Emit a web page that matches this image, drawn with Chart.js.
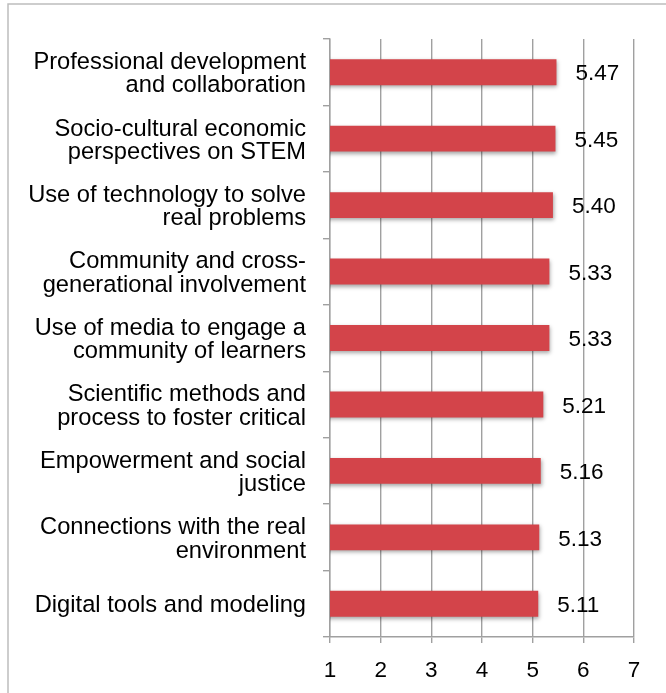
<!DOCTYPE html>
<html>
<head>
<meta charset="utf-8">
<script src="https://cdn.jsdelivr.net/npm/chart.js@4/dist/chart.umd.min.js"></script>
<style>
  html, body { margin: 0; padding: 0; background: #ffffff; }
  #wrap { position: relative; width: 666px; height: 693px; }
</style>
</head>
<body>
<div id="wrap"><canvas id="chart" width="666" height="693"></canvas></div>
<script>
// Mean ratings per STEM practice area
const categories = [
  ["Professional development", "and collaboration"],
  ["Socio-cultural economic", "perspectives on STEM"],
  ["Use of technology to solve", "real problems"],
  ["Community and cross-", "generational involvement"],
  ["Use of media to engage a", "community of learners"],
  ["Scientific methods and", "process to foster critical"],
  ["Empowerment and social", "justice"],
  ["Connections with the real", "environment"],
  "Digital tools and modeling"
];
const ratings = [5.47, 5.45, 5.40, 5.33, 5.33, 5.21, 5.16, 5.13, 5.11];
const xTicks = [1, 2, 3, 4, 5, 6, 7];

const FONT = "'Liberation Sans', Arial, sans-serif";
const GRID = '#a0a0a0';

// Thin frame around the figure
const framePlugin = {
  id: 'frame',
  beforeDraw(chart) {
    const ctx = chart.ctx;
    ctx.save();
    ctx.strokeStyle = '#bdbdbd';
    ctx.lineWidth = 1.5;
    ctx.beginPath();
    ctx.moveTo(8, 700);
    ctx.lineTo(8, 4);
    ctx.lineTo(700, 4);
    ctx.stroke();
    ctx.restore();
  }
};

// Soft drop shadow under the bars
const shadowPlugin = {
  id: 'barShadow',
  beforeDatasetDraw(chart) {
    const ctx = chart.ctx;
    ctx.save();
    ctx.shadowColor = 'rgba(0,0,0,0.35)';
    ctx.shadowBlur = 4;
    ctx.shadowOffsetX = 1;
    ctx.shadowOffsetY = 2;
  },
  afterDatasetDraw(chart) {
    chart.ctx.restore();
  }
};

// Value labels just past the end of each bar
const valueLabelPlugin = {
  id: 'valueLabels',
  afterDatasetsDraw(chart) {
    const ctx = chart.ctx;
    const meta = chart.getDatasetMeta(0);
    ctx.save();
    ctx.font = '22.5px ' + FONT;
    ctx.fillStyle = '#000000';
    ctx.textAlign = 'left';
    ctx.textBaseline = 'middle';
    meta.data.forEach((bar, i) => {
      const v = chart.data.datasets[0].data[i];
      ctx.fillText(v.toFixed(2), bar.x + 19, bar.y + 2);
    });
    ctx.restore();
  }
};

new Chart(document.getElementById('chart'), {
  type: 'bar',
  data: {
    labels: categories,
    datasets: [{
      data: ratings,
      backgroundColor: '#d3444a',
      borderWidth: 0,
      barPercentage: 0.39,
      categoryPercentage: 1.0
    }]
  },
  options: {
    indexAxis: 'y',
    responsive: false,
    animation: false,
    layout: { padding: { top: 39, right: 32, left: 0, bottom: 0 } },
    plugins: {
      legend: { display: false },
      tooltip: { enabled: false }
    },
    scales: {
      x: {
        type: 'linear',
        min: xTicks[0],
        max: xTicks[xTicks.length - 1],
        afterBuildTicks(scale) {
          scale.ticks = xTicks.map(v => ({ value: v }));
        },
        afterFit(scale) { scale.height = 56; },
        grid: {
          color: GRID,
          lineWidth: 1.4,
          drawTicks: true,
          tickLength: 6,
          tickColor: GRID
        },
        border: { display: true, color: GRID, width: 1.4 },
        ticks: {
          color: '#000000',
          font: { family: FONT, size: 22.5 },
          padding: 14,
          maxRotation: 0
        }
      },
      y: {
        afterFit(scale) { scale.width = 330; },
        grid: {
          offset: true,
          drawOnChartArea: false,
          drawTicks: true,
          tickLength: 7,
          tickColor: GRID,
          lineWidth: 1.4
        },
        border: { display: true, color: GRID, width: 1.4 },
        ticks: {
          color: '#000000',
          font: { family: FONT, size: 23.7, lineHeight: 0.985 },
          padding: 17,
          labelOffset: 2,
          autoSkip: false
        }
      }
    }
  },
  plugins: [framePlugin, shadowPlugin, valueLabelPlugin]
});
</script>
</body>
</html>
